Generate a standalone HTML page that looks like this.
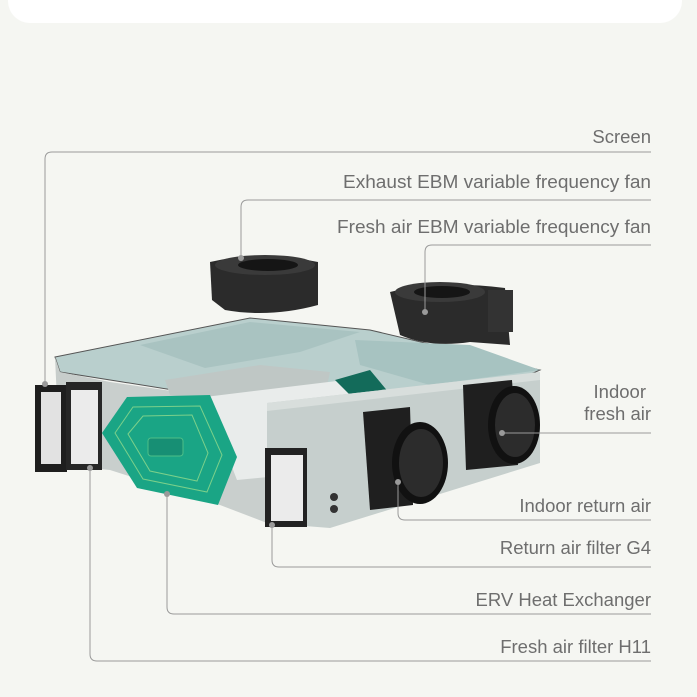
<!DOCTYPE html>
<html><head><style>
html,body{margin:0;padding:0;background:#f5f6f2;}
svg{display:block}
text{font-family:"Liberation Sans",sans-serif;font-size:18.5px;fill:#6e6e6e;}
</style></head><body>
<svg width="697" height="697" viewBox="0 0 697 697" xmlns="http://www.w3.org/2000/svg">
<rect x="0" y="0" width="697" height="697" fill="#f5f6f2"/>
<rect x="8" y="-30" width="674" height="53" rx="22" fill="#ffffff"/>

<polygon points="55,357 250,318 370,330 540,370 522,378 267,405 60,372" fill="#b9cfcd" stroke="#555" stroke-width="1"/>
<polygon points="140,345 250,322 360,332 300,352 205,368" fill="#a9c3c1"/>
<polygon points="355,340 470,345 540,370 430,385 360,365" fill="#a7c3c1"/>
<polygon points="55,357 60,372 110,382 110,470 60,465" fill="#c7cdcb"/>
<polygon points="110,382 267,405 267,523 220,505 110,470" fill="#c9cfcd"/>
<polygon points="165,380 260,365 330,372 325,395 235,405 170,395" fill="#bfc7c5"/>
<polygon points="205,397 345,380 375,420 340,470 237,480" fill="#e9eceb"/>
<polygon points="335,380 370,370 395,400 375,420" fill="#136b5a"/>
<polygon points="267,403 540,372 540,463 330,528 267,523" fill="#c6cfcd"/>
<polygon points="267,403 540,372 540,380 267,411" fill="#d8dedc"/>
<polygon points="102,433 127,397 210,395 237,457 218,505 137,488" fill="#1aa585"/>
<polygon points="115,433 133,407 200,406 222,455 207,492 143,479" fill="none" stroke="#7bd08a" stroke-width="1"/>
<polygon points="128,434 143,416 192,415 208,453 197,481 150,471" fill="none" stroke="#7bd08a" stroke-width="1"/>
<rect x="148" y="438" width="35" height="18" rx="3" fill="#178f74" stroke="#4dbf88" stroke-width="1"/>
<rect x="35" y="385" width="32" height="87" fill="#1e1e1e"/>
<rect x="41" y="392" width="20" height="72" fill="#e2e2e2"/>
<rect x="66" y="382" width="36" height="88" fill="#262626"/>
<rect x="71" y="390" width="27" height="74" fill="#ebebeb"/>
<rect x="265" y="448" width="42" height="79" fill="#222"/>
<rect x="271" y="455" width="32" height="66" fill="#ebebeb"/>
<circle cx="334" cy="497" r="4" fill="#333"/>
<circle cx="334" cy="509" r="4" fill="#333"/>
<polygon points="363,412 410,407 413,505 370,510" fill="#1f1f1f"/>
<ellipse cx="420" cy="463" rx="28" ry="41" fill="#111"/>
<ellipse cx="421" cy="463" rx="22" ry="34" fill="#2c2c2c"/>
<polygon points="463,385 512,380 518,465 466,470" fill="#1f1f1f"/>
<ellipse cx="514" cy="425" rx="26" ry="39" fill="#111"/>
<ellipse cx="515" cy="425" rx="20" ry="32" fill="#2c2c2c"/>
<path d="M210,262 Q260,250 318,262 L318,305 Q270,318 225,310 L212,300 Z" fill="#2b2b2b"/>
<ellipse cx="265" cy="265" rx="50" ry="10" fill="#3a3a3a"/>
<ellipse cx="268" cy="265" rx="30" ry="6" fill="#151515"/>
<path d="M390,292 Q440,280 505,288 L510,345 L470,342 Q430,348 400,335 Z" fill="#2b2b2b"/>
<ellipse cx="440" cy="292" rx="45" ry="10" fill="#3a3a3a"/>
<ellipse cx="442" cy="292" rx="28" ry="6" fill="#151515"/>
<rect x="488" y="290" width="25" height="42" fill="#333"/>

<g fill="none" stroke="#9a9a9a" stroke-width="1">
<path d="M651,152 H52 Q45,152 45,159 V384"/>
<path d="M651,200 H248 Q241,200 241,207 V258"/>
<path d="M651,245 H432 Q425,245 425,252 V312"/>
<path d="M651,433 H502"/>
<path d="M651,520 H405 Q398,520 398,513 V482"/>
<path d="M651,567 H279 Q272,567 272,560 V525"/>
<path d="M651,614 H174 Q167,614 167,607 V494"/>
<path d="M651,661 H97 Q90,661 90,654 V468"/>
</g>
<g fill="#9a9a9a">
<circle cx="45" cy="384" r="3"/><circle cx="241" cy="258" r="3"/><circle cx="425" cy="312" r="3"/>
<circle cx="502" cy="433" r="3"/><circle cx="398" cy="482" r="3"/><circle cx="272" cy="525" r="3"/>
<circle cx="167" cy="494" r="3"/><circle cx="90" cy="468" r="3"/>
</g>

<g text-anchor="end">
<text x="651" y="143">Screen</text>
<text x="651" y="188" textLength="308" lengthAdjust="spacingAndGlyphs">Exhaust EBM variable frequency fan</text>
<text x="651" y="233" textLength="314" lengthAdjust="spacingAndGlyphs">Fresh air EBM variable frequency fan</text>
<text x="646" y="398">Indoor</text>
<text x="651" y="420">fresh air</text>
<text x="651" y="512">Indoor return air</text>
<text x="651" y="554">Return air filter G4</text>
<text x="651" y="606">ERV Heat Exchanger</text>
<text x="651" y="653">Fresh air filter H11</text>
</g>
</svg>
</body></html>
